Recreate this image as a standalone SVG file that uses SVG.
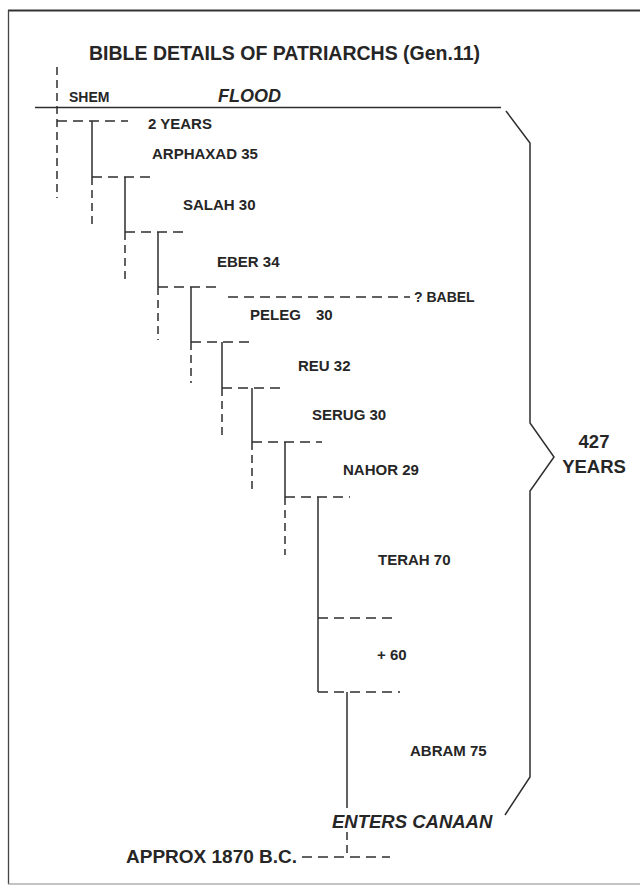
<svg xmlns="http://www.w3.org/2000/svg" width="640" height="886" viewBox="0 0 640 886">
<style>
.t{font-family:"Liberation Sans",Arial,sans-serif;font-weight:bold;fill:#262626}
.i{font-style:italic}
.s{stroke:#2e2e2e;stroke-width:1.5;fill:none}
.dh{stroke:#2e2e2e;stroke-width:1.5;fill:none;stroke-dasharray:10 6}
.dv{stroke:#2e2e2e;stroke-width:1.5;fill:none;stroke-dasharray:8 5}
</style>
<rect width="640" height="886" fill="#ffffff"/>
<g id="frame">
<path d="M8 10.5H640" stroke="#333" stroke-width="1.8"/>
<path d="M8.5 10V884" stroke="#444" stroke-width="1.3"/>
<path d="M8 884H640" stroke="#888" stroke-width="1"/>
</g>
<text class="t" x="89" y="60" font-size="19.5" textLength="391" lengthAdjust="spacingAndGlyphs">BIBLE DETAILS OF PATRIARCHS (Gen.11)</text>
<g id="connectors">
<path class="s" d="M35 107.5H501"/>
<path class="s" d="M506 111L530 143V423L554 457L530 491V777L505 815"/>
<path class="dv" d="M57 67V198"/>
<path class="dh" d="M57 121H128"/>
<path class="s" d="M92 121V177"/>
<path class="dh" d="M92 177H155"/>
<path class="dv" d="M92 177V225"/>
<path class="s" d="M125 177V232"/>
<path class="dh" d="M125 232H187"/>
<path class="dv" d="M125 232V280"/>
<path class="s" d="M158 232V287"/>
<path class="dh" d="M158 287H220"/>
<path class="dv" d="M158 287V340"/>
<path class="dh" d="M228 297H410"/>
<path class="s" d="M191 287V342"/>
<path class="dh" d="M191 342H253"/>
<path class="dv" d="M191 342V383"/>
<path class="s" d="M222 342V388"/>
<path class="dh" d="M222 388H286"/>
<path class="dv" d="M222 388V440"/>
<path class="s" d="M252 388V442"/>
<path class="dh" d="M252 442H322"/>
<path class="dv" d="M252 442V490"/>
<path class="s" d="M285 442V497"/>
<path class="dh" d="M285 497H350"/>
<path class="dv" d="M285 497V555"/>
<path class="s" d="M318 497V692"/>
<path class="dh" d="M318 618H394"/>
<path class="dh" d="M318 692H400"/>
<path class="s" d="M347 692V808"/>
<path class="dv" d="M347 832V857"/>
<path class="dh" d="M302 857H390" stroke-dasharray="13 8"/>
</g>
<g id="shem"><text class="t" x="69" y="102" font-size="14">SHEM</text></g>
<g id="flood"><text class="t i" x="218" y="102" font-size="18">FLOOD</text></g>
<g id="two-years"><text class="t" x="148" y="129" font-size="15">2 YEARS</text></g>
<g id="arphaxad"><text class="t" x="152" y="159" font-size="15">ARPHAXAD 35</text></g>
<g id="salah"><text class="t" x="183" y="210" font-size="15">SALAH 30</text></g>
<g id="eber"><text class="t" x="217" y="267" font-size="15">EBER 34</text></g>
<g id="babel"><text class="t" x="414" y="302" font-size="14">? BABEL</text></g>
<g id="peleg"><text class="t" x="250" y="320" font-size="15">PELEG<tspan x="316">30</tspan></text></g>
<g id="reu"><text class="t" x="298" y="371" font-size="15">REU 32</text></g>
<g id="serug"><text class="t" x="312" y="420" font-size="15">SERUG 30</text></g>
<g id="nahor"><text class="t" x="343" y="475" font-size="15">NAHOR 29</text></g>
<g id="terah"><text class="t" x="378" y="565" font-size="15">TERAH 70</text></g>
<g id="plus60"><text class="t" x="377" y="660" font-size="15">+ 60</text></g>
<g id="abram"><text class="t" x="410" y="756" font-size="15">ABRAM 75</text></g>
<g id="enters-canaan"><text class="t i" x="332" y="828" font-size="18.5">ENTERS CANAAN</text></g>
<g id="approx"><text class="t" x="126" y="863" font-size="19">APPROX 1870 B.C.</text></g>
<g id="years427">
<text class="t" x="594" y="448" font-size="18.5" text-anchor="middle">427</text>
<text class="t" x="594" y="473" font-size="18.5" text-anchor="middle">YEARS</text>
</g>
</svg>
